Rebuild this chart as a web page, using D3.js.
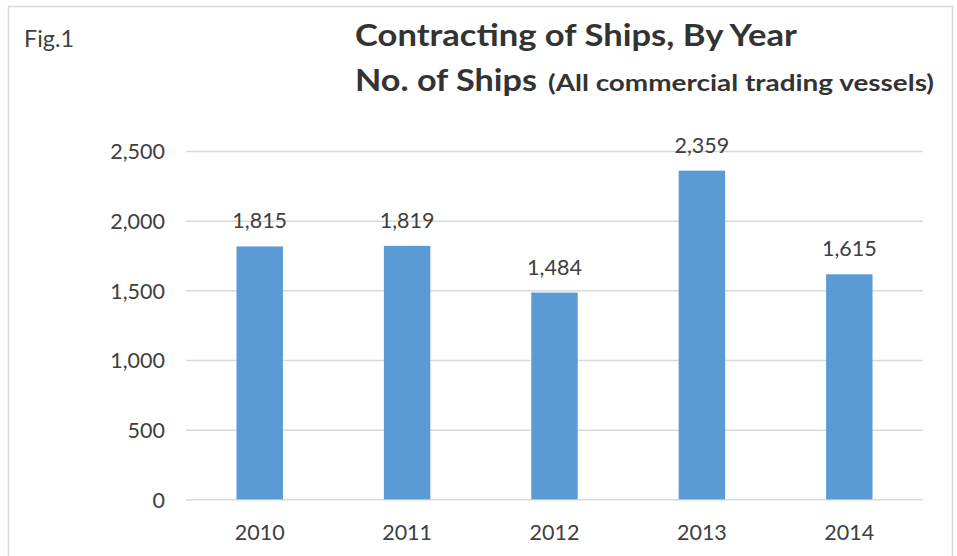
<!DOCTYPE html>
<html>
<head>
<meta charset="utf-8">
<script src="https://cdn.jsdelivr.net/npm/d3@7"></script>
<style>
  html, body { margin: 0; padding: 0; background: #fff; }
  svg { display: block; font-family: Lato, "Open Sans", sans-serif; }
</style>
</head>
<body>
<svg id="chart" width="957" height="556"></svg>
<script>
const years = ["2010", "2011", "2012", "2013", "2014"];
const ships = [1815, 1819, 1484, 2359, 1615];
const yTicks = [0, 500, 1000, 1500, 2000, 2500];
const figLabel = "Fig.1";
const titleLine1 = "Contracting of Ships, By Year";
const titleLine2a = "No. of Ships";
const titleLine2b = "(All commercial trading vessels)";

const svg = d3.select("#chart");
const fmt = d3.format(",");

// outer border
svg.append("rect")
  .attr("x", 8.5).attr("y", 6.5).attr("width", 944).attr("height", 560)
  .attr("fill", "#fff").attr("stroke", "#D9D9D9").attr("stroke-width", 1.5);

const plot = { left: 186, right: 923, top: 151, bottom: 499.3 };

const x = d3.scaleBand()
  .domain(years)
  .range([plot.left, plot.right])
  .paddingInner(0.685)
  .paddingOuter(0.685 / 2);

const y = d3.scaleLinear()
  .domain([0, 2500])
  .range([plot.bottom, plot.top]);

// y axis with gridlines
const yAxis = d3.axisLeft(y)
  .tickValues(yTicks)
  .tickFormat(fmt)
  .tickSize(-(plot.right - plot.left))
  .tickPadding(21);

const gy = svg.append("g")
  .attr("transform", `translate(${plot.left},0)`)
  .call(yAxis);
gy.select(".domain").remove();
gy.selectAll(".tick line").attr("stroke", "#D9D9D9").attr("stroke-width", 1.5);
gy.selectAll(".tick text")
  .attr("fill", "#404040")
  .style("font-size", "21.5px")
  .style("font-family", "Lato, sans-serif")
  .attr("dy", "0.36em");

// bars
svg.append("g").selectAll("rect")
  .data(years)
  .join("rect")
  .attr("x", (d) => x(d))
  .attr("width", x.bandwidth())
  .attr("y", (d, i) => y(ships[i]))
  .attr("height", (d, i) => y(0) - y(ships[i]))
  .attr("fill", "#5B9BD5");

// data labels
svg.append("g").selectAll("text")
  .data(years)
  .join("text")
  .attr("x", (d) => x(d) + x.bandwidth() / 2)
  .attr("y", (d, i) => y(ships[i]) - 18)
  .attr("text-anchor", "middle")
  .attr("fill", "#404040")
  .style("font-size", "21.5px")
  .text((d, i) => fmt(ships[i]));

// x axis
const xAxis = d3.axisBottom(x).tickSize(0).tickPadding(0);
const gx = svg.append("g")
  .attr("transform", `translate(0,${plot.bottom})`)
  .call(xAxis);
gx.select(".domain").remove();
gx.selectAll(".tick text")
  .attr("fill", "#404040")
  .style("font-size", "21.5px")
  .style("font-family", "Lato, sans-serif")
  .attr("y", 41)
  .attr("dy", 0);

// Fig.1
svg.append("text")
  .attr("x", 24).attr("y", 47)
  .attr("fill", "#404040")
  .style("font-size", "24px")
  .attr("textLength", 50)
  .attr("lengthAdjust", "spacingAndGlyphs")
  .text(figLabel);

// Title
svg.append("text")
  .attr("x", 355).attr("y", 46)
  .attr("fill", "#333333")
  .style("font-weight", "bold")
  .style("font-size", "31px")
  .attr("textLength", 442)
  .attr("lengthAdjust", "spacingAndGlyphs")
  .text(titleLine1);

svg.append("text")
  .attr("x", 355).attr("y", 91)
  .attr("fill", "#333333")
  .style("font-weight", "bold")
  .style("font-size", "31px")
  .attr("textLength", 182)
  .attr("lengthAdjust", "spacingAndGlyphs")
  .text(titleLine2a);

svg.append("text")
  .attr("x", 548).attr("y", 91)
  .attr("fill", "#333333")
  .style("font-weight", "bold")
  .style("font-size", "23px")
  .attr("textLength", 386)
  .attr("lengthAdjust", "spacingAndGlyphs")
  .text(titleLine2b);
</script>
</body>
</html>
